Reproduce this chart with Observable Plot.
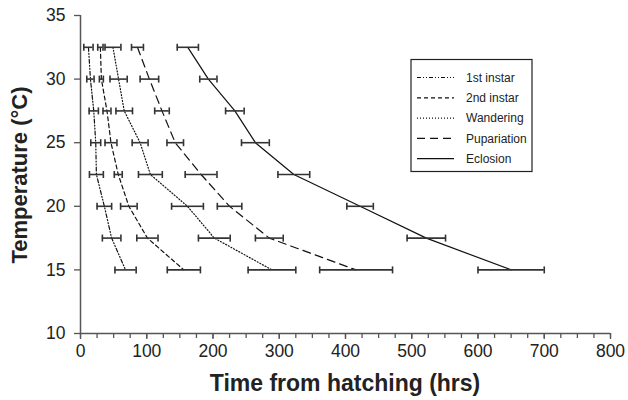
<!DOCTYPE html>
<html>
<head>
<meta charset="utf-8">
<script src="https://cdn.jsdelivr.net/npm/d3@7"></script>
<script src="https://cdn.jsdelivr.net/npm/@observablehq/plot@0.6"></script>
<style>
  html, body { margin: 0; padding: 0; background: white; }
</style>
</head>
<body>
<div id="chart"></div>
<script>
const temps = [32.5, 30, 27.5, 25, 22.5, 20, 17.5, 15];
const seriesNames = ["1st instar", "2nd instar", "Wandering", "Pupariation", "Eclosion"];
const instar1 = [12, 15, 20, 23, 24, 36, 47, 68];
const instar1Err = [7, 5.5, 7, 7.5, 10.5, 11, 14, 16];
const instar2 = [30, 31.5, 40, 46, 57, 73, 101, 156];
const instar2Err = [4, 3, 6, 9, 6, 12.5, 16, 25];
const wandering = [49, 57.5, 66, 90, 105.5, 161.5, 202, 289];
const wanderingErr = [12, 13, 12.5, 12, 18, 24, 24, 36];
const pupariation = [86, 104, 123, 143, 182, 225, 285, 416];
const pupariationErr = [9, 14, 11, 12.5, 24, 18.5, 21, 55];
const eclosion = [162, 193, 233, 264, 322, 422, 522, 650];
const eclosionErr = [16, 13, 14, 21, 24, 20, 29, 50];
const xTicks = [0, 100, 200, 300, 400, 500, 600, 700, 800];
const yTicks = [10, 15, 20, 25, 30, 35];

const means = [instar1, instar2, wandering, pupariation, eclosion];
const errs = [instar1Err, instar2Err, wanderingErr, pupariationErr, eclosionErr];
const dashes = ["4,2,1,2,1,2", "4,3", "1,2", "8,5", null];

const rows = [];
seriesNames.forEach((s, i) => {
  temps.forEach((t, j) => rows.push({series: s, temp: t, mean: means[i][j], err: errs[i][j]}));
});

const vbar = {
  draw(ctx, size) {
    const h = Math.sqrt(size / Math.PI);
    ctx.moveTo(0, -h);
    ctx.lineTo(0, h);
  }
};

const lineMarks = seriesNames.map((s, i) =>
  Plot.line(rows.filter(d => d.series === s), {
    x: "mean", y: "temp", stroke: "#111", strokeWidth: 1.2,
    strokeDasharray: dashes[i] || undefined
  })
);

const minorTicks = d3.range(0, 801, 25);
const FONT = "'Liberation Sans', Arial, sans-serif";

const chart = Plot.plot({
  width: 628,
  height: 400,
  marginLeft: 80,
  marginRight: 18,
  marginTop: 15,
  marginBottom: 67,
  style: {fontFamily: FONT, fontSize: "17.5px", color: "#222", background: "white"},
  x: {domain: [0, 800]},
  y: {domain: [10, 35]},
  marks: [
    Plot.axisY({ticks: yTicks, tickSize: 6, tickPadding: 9, label: null, stroke: "#555", strokeWidth: 1.3}),
    Plot.axisX({ticks: xTicks, tickSize: 6, tickPadding: 5, label: null, stroke: "#555", strokeWidth: 1.3}),
    Plot.axisX({ticks: minorTicks, tickSize: 5, tickFormat: () => "", label: null, stroke: "#555", strokeWidth: 1.3}),
    Plot.ruleX([0], {y1: 10, y2: 35, stroke: "#555", strokeWidth: 1.5}),
    Plot.ruleY([10], {x1: 0, x2: 800, stroke: "#555", strokeWidth: 1.5}),
    ...lineMarks,
    Plot.ruleY(rows, {y: "temp", x1: d => d.mean - d.err, x2: d => d.mean + d.err, stroke: "#333", strokeWidth: 1.6}),
    Plot.dot(rows, {x: d => d.mean - d.err, y: "temp", symbol: vbar, r: 3.5, stroke: "#333", strokeWidth: 1.6, fill: "none"}),
    Plot.dot(rows, {x: d => d.mean + d.err, y: "temp", symbol: vbar, r: 3.5, stroke: "#333", strokeWidth: 1.6, fill: "none"})
  ]
});

document.getElementById("chart").appendChild(chart);

const svg = d3.select(chart);
svg.append("text")
  .attr("x", 345).attr("y", 391)
  .attr("text-anchor", "middle")
  .attr("font-family", FONT)
  .attr("font-weight", "bold").attr("font-size", 23).attr("fill", "#222")
  .text("Time from hatching (hrs)");
svg.append("text")
  .attr("transform", "translate(27,175) rotate(-90)")
  .attr("text-anchor", "middle")
  .attr("font-family", FONT)
  .attr("font-weight", "bold").attr("font-size", 22).attr("fill", "#222")
  .text("Temperature (°C)");

const lg = svg.append("g");
lg.append("rect").attr("x", 411).attr("y", 59.5).attr("width", 121).attr("height", 112)
  .attr("fill", "white").attr("stroke", "#222").attr("stroke-width", 1.2);
seriesNames.forEach((s, i) => {
  const y = 77.5 + i * 20.3;
  lg.append("line").attr("x1", 417).attr("x2", 454).attr("y1", y).attr("y2", y)
    .attr("stroke", "#111").attr("stroke-width", 1.2)
    .attr("stroke-dasharray", dashes[i] || null);
  lg.append("text").attr("x", 466).attr("y", y).attr("dy", "0.35em")
    .attr("text-anchor", "start")
    .attr("font-family", FONT)
    .attr("font-size", 12).attr("fill", "#222").text(s);
});
</script>
</body>
</html>
